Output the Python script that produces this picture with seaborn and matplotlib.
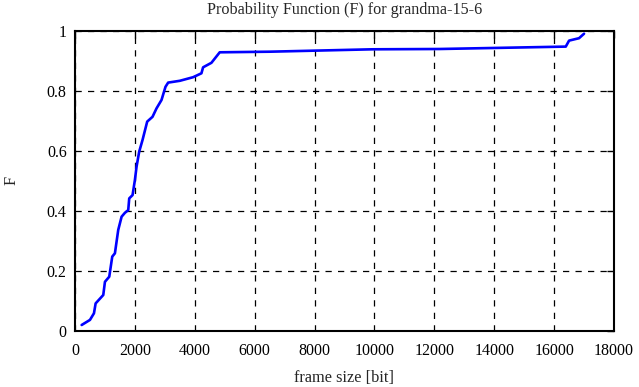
import matplotlib
matplotlib.use("Agg")
import matplotlib.pyplot as plt
import seaborn as sns
import pandas as pd

frame_size = [222, 500, 633, 689, 944, 1000, 1144, 1244, 1333, 1444, 1556, 1667,
              1778, 1811, 1922, 2000, 2056, 2144, 2256, 2411, 2589, 2722, 2889,
              3022, 3111, 3500, 3944, 4222, 4278, 4556, 4833, 6500, 9933, 12167,
              16389, 16500, 16833, 17000]
F = [0.019, 0.036, 0.058, 0.091, 0.119, 0.163, 0.180, 0.247, 0.258, 0.336, 0.380,
     0.393, 0.402, 0.441, 0.452, 0.502, 0.547, 0.597, 0.636, 0.697, 0.713, 0.741,
     0.769, 0.813, 0.827, 0.833, 0.845, 0.858, 0.878, 0.893, 0.928, 0.930, 0.938,
     0.939, 0.947, 0.967, 0.975, 0.990]
x_ticks = [0, 2000, 4000, 6000, 8000, 10000, 12000, 14000, 16000, 18000]
y_ticks = [0, 0.2, 0.4, 0.6, 0.8, 1]
y_tick_labels = ["0", "0.2", "0.4", "0.6", "0.8", "1"]

sns.set_style("white")
plt.rcParams['font.family'] = ['Liberation Serif', 'DejaVu Serif']
plt.rcParams['font.size'] = 11

df = pd.DataFrame({"frame size [bit]": frame_size, "F": F})

fig = plt.figure(figsize=(6.39, 3.87), dpi=100)
ax = fig.add_axes([75/639, 1 - 330.7/387, (614 - 75)/639, (330.7 - 30.7)/387])
sns.lineplot(data=df, x="frame size [bit]", y="F", ax=ax, color="#0000ff",
             linewidth=1.9, estimator=None)
ax.set_xlim(0, 18000)
ax.set_ylim(0, 1)
ax.set_xticks(x_ticks)
ax.set_xticklabels([str(t) for t in x_ticks])
ax.set_yticks(y_ticks)
ax.set_yticklabels(y_tick_labels)
ax.grid(True, color="black", linestyle=(0, (5, 5)), linewidth=0.9)
ax.tick_params(direction="in", length=5, width=1, top=True, right=True,
               labelsize=11.5, colors="black")
ax.tick_params(axis="x", pad=9)
ax.tick_params(axis="y", pad=6)
for s in ax.spines.values():
    s.set_color("black")
    s.set_linewidth(1.5)
ax.set_xlabel("frame size [bit]", fontsize=11.8, labelpad=8)
ax.set_ylabel("F", fontsize=11.8, labelpad=20)
ax.set_title("Probability Function (F) for grandma-15-6", fontsize=11.6, pad=12)
fig.savefig("out.png", dpi=100)
